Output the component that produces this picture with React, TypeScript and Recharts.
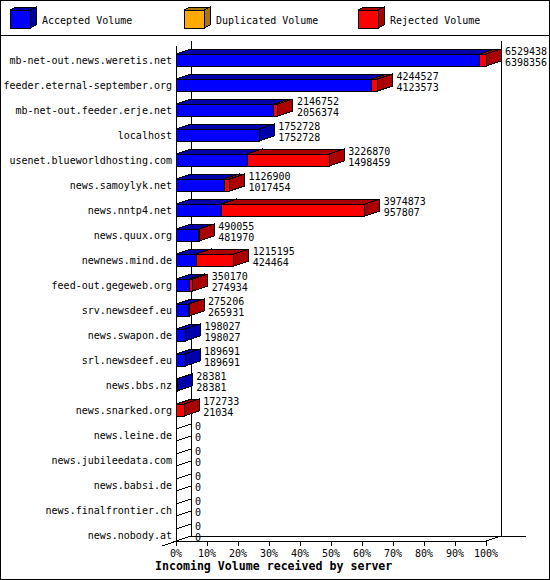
import React from 'react';
import { BarChart, Bar, XAxis, YAxis, LabelList, Customized } from 'recharts';

// ---------- data ----------
const servers = [
  'mb-net-out.news.weretis.net',
  'feeder.eternal-september.org',
  'mb-net-out.feeder.erje.net',
  'localhost',
  'usenet.blueworldhosting.com',
  'news.samoylyk.net',
  'news.nntp4.net',
  'news.quux.org',
  'newnews.mind.de',
  'feed-out.gegeweb.org',
  'srv.newsdeef.eu',
  'news.swapon.de',
  'srl.newsdeef.eu',
  'news.bbs.nz',
  'news.snarked.org',
  'news.leine.de',
  'news.jubileedata.com',
  'news.babsi.de',
  'news.finalfrontier.ch',
  'news.nobody.at',
];
const totalVolume = [
  6529438, 4244527, 2146752, 1752728, 3226870, 1126900, 3974873, 490055, 1215195, 350170,
  275206, 198027, 189691, 28381, 172733, 0, 0, 0, 0, 0,
];
const acceptedVolume = [
  6398356, 4123573, 2056374, 1752728, 1498459, 1017454, 957807, 481970, 424464, 274934,
  265931, 198027, 189691, 28381, 21034, 0, 0, 0, 0, 0,
];
const duplicatedVolume = [0, 0, 0, 0, 0, 0, 0, 0, 0, 0, 0, 0, 0, 0, 0, 0, 0, 0, 0, 0];
const percentTicks = [0, 10, 20, 30, 40, 50, 60, 70, 80, 90, 100];
const seriesNames = ['Accepted Volume', 'Duplicated Volume', 'Rejected Volume'];
const xAxisTitle = 'Incoming Volume received by server';

// ---------- styling ----------
const FRONT = ['#0000FF', '#FFAA00', '#FF0000'];
const DARK = ['#0000AA', '#AA7700', '#AA0000'];
const FONT = '"DejaVu Sans Mono", "Liberation Mono", monospace';
const DX = 15;
const DY = 5;
const W = 550;
const H = 580;
const M_TOP = 46;
const M_RIGHT = 64;
const Y_AXIS_W = 176;
const X_AXIS_H = 39;
const PLOT_L = Y_AXIS_W;
const PLOT_R = W - M_RIGHT;
const PLOT_T = M_TOP;
const PLOT_B = H - X_AXIS_H;

const maxTotal = Math.max(...totalVolume);
const rows = servers.map((server, i) => {
  const rejectedRaw = totalVolume[i] - acceptedVolume[i] - duplicatedVolume[i];
  return {
    server,
    accepted: (acceptedVolume[i] / maxTotal) * 100,
    duplicated: (duplicatedVolume[i] / maxTotal) * 100,
    rejected: (rejectedRaw / maxTotal) * 100,
    total: totalVolume[i],
    acceptedRaw: acceptedVolume[i],
  };
});

function makeShape(si: number) {
  return (props: any) => {
    const { x, y, width, height, payload } = props;
    if (x == null || y == null) return null;
    const w = Math.max(0, width || 0);
    const h = height || 0;
    if (w <= 0) {
      if (si === 0 && payload && payload.total === 0) {
        const pts = `${x},${y} ${x + DX},${y - DY} ${x + DX},${y + h - DY} ${x},${y + h}`;
        return <polygon points={pts} fill="none" stroke="#000" strokeWidth={1} />;
      }
      return <g />;
    }
    const top = `${x},${y} ${x + w},${y} ${x + w + DX},${y - DY} ${x + DX},${y - DY}`;
    const side = `${x + w},${y} ${x + w + DX},${y - DY} ${x + w + DX},${y + h - DY} ${x + w},${y + h}`;
    return (
      <g>
        <rect x={x} y={y} width={w} height={h} fill={FRONT[si]} stroke="#000" strokeWidth={1} />
        <polygon points={top} fill={DARK[si]} stroke="#000" strokeWidth={1} />
        <polygon points={side} fill={DARK[si]} stroke="#000" strokeWidth={1} />
      </g>
    );
  };
}

const CategoryTick = (props: any) => {
  const { x, y, payload } = props;
  return (
    <text x={x} y={y} dy={4} textAnchor="end" fontFamily={FONT} fontSize={10} fill="#000">
      {payload.value}
    </text>
  );
};

const PercentTick = (props: any) => {
  const { x, y, payload } = props;
  return (
    <text x={x} y={y} dy={11} textAnchor="middle" fontFamily={FONT} fontSize={10} fill="#000">
      {`${payload.value}%`}
    </text>
  );
};

const ValueLabel = (props: any) => {
  const vb = props.viewBox || props;
  const x = vb.x ?? props.x;
  const y = vb.y ?? props.y;
  const width = vb.width ?? props.width ?? 0;
  const height = vb.height ?? props.height ?? 0;
  const index = props.index;
  if (x == null || y == null || index == null) return null;
  const row = rows[index];
  const lx = x + Math.max(0, width) + DX + 4;
  const cy = y + height / 2;
  return (
    <g fontFamily={FONT} fontSize={10} fill="#000">
      <text x={lx} y={cy - 5}>{String(row.total)}</text>
      <text x={lx} y={cy + 5.5}>{String(row.acceptedRaw)}</text>
    </g>
  );
};

const Frame = () => {
  const bl = PLOT_L + DX;
  const br = PLOT_R + DX;
  const bt = PLOT_T - DY;
  const bb = PLOT_B - DY;
  return (
    <g>
      <rect x={0.5} y={0.5} width={W - 1} height={H - 1} fill="none" stroke="#000" />
      <line x1={0} y1={35.5} x2={W} y2={35.5} stroke="#000" />
      {seriesNames.map((name, i) => {
        const x0 = 10 + 174 * i;
        const fy = 10;
        const fw = 20;
        const fh = 18;
        const d = 6;
        const e = 3;
        return (
          <g key={name}>
            <rect x={x0} y={fy} width={fw} height={fh} fill={FRONT[i]} stroke="#000" />
            <polygon
              points={`${x0},${fy} ${x0 + fw},${fy} ${x0 + fw + d},${fy - e} ${x0 + d},${fy - e}`}
              fill={DARK[i]}
              stroke="#000"
            />
            <polygon
              points={`${x0 + fw},${fy} ${x0 + fw + d},${fy - e} ${x0 + fw + d},${fy + fh - e} ${x0 + fw},${fy + fh}`}
              fill={DARK[i]}
              stroke="#000"
            />
            <text x={x0 + 32} y={24} fontFamily={FONT} fontSize={10} fill="#000">
              {name}
            </text>
          </g>
        );
      })}
      <line x1={bl} y1={bt} x2={bl} y2={bb} stroke="#000" />
      <line x1={br} y1={bt} x2={br} y2={bb} stroke="#000" />
      <line x1={bl} y1={bb} x2={br + 25} y2={bb} stroke="#000" />
      <line x1={bl} y1={bb} x2={PLOT_L - DX + 1} y2={PLOT_B + DY} stroke="#000" />
      <line x1={br} y1={bb} x2={PLOT_R} y2={PLOT_B} stroke="#000" />
      <text x={155} y={570} fontFamily={FONT} fontSize={11.6} fontWeight="bold" fill="#000">
        {xAxisTitle}
      </text>
    </g>
  );
};

export default function App() {
  return (
    <div style={{ width: W, height: H, background: '#fff', position: 'relative' }}>
      <style>{'body{margin:0;} svg{shape-rendering:crispEdges;} svg text{shape-rendering:auto;}'}</style>
      <BarChart
        width={W}
        height={H}
        data={rows}
        layout="vertical"
        margin={{ top: M_TOP, right: M_RIGHT, left: 0, bottom: 0 }}
        barSize={12}
      >
        <Customized component={Frame} />
        <XAxis
          type="number"
          domain={[0, 100]}
          ticks={percentTicks}
          interval={0}
          height={X_AXIS_H}
          tickSize={5}
          tickMargin={0}
          axisLine={{ stroke: '#000' }}
          tickLine={{ stroke: '#000' }}
          tick={<PercentTick />}
        />
        <YAxis
          type="category"
          dataKey="server"
          width={Y_AXIS_W}
          interval={0}
          tickSize={4}
          tickMargin={0}
          tickLine={false}
          axisLine={{ stroke: '#000' }}
          tick={<CategoryTick />}
          padding={{ top: 1, bottom: -6 }}
        />
        <Bar dataKey="accepted" name={seriesNames[0]} stackId="v" shape={makeShape(0)} isAnimationActive={false} />
        <Bar dataKey="duplicated" name={seriesNames[1]} stackId="v" shape={makeShape(1)} isAnimationActive={false} />
        <Bar dataKey="rejected" name={seriesNames[2]} stackId="v" shape={makeShape(2)} isAnimationActive={false}>
          <LabelList dataKey="total" content={<ValueLabel />} />
        </Bar>
      </BarChart>
    </div>
  );
}
